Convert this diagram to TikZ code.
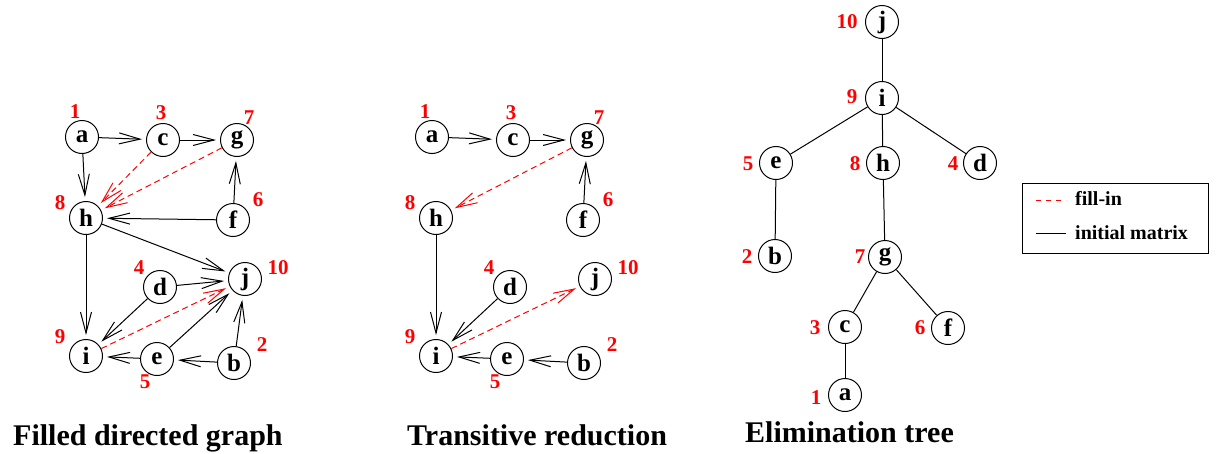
\documentclass[tikz,border=0pt]{standalone}
\usepackage{fontspec}
\setmainfont{Liberation Serif}
\newfontfamily\tbf{Liberation Serif Bold}
\usetikzlibrary{arrows.meta}
\begin{document}
\begin{tikzpicture}[x=1pt,y=-1pt,
  vtx/.style={circle,draw,line width=1pt,minimum size=33pt,inner sep=0pt,font=\fontsize{25}{25}\tbf},
  num/.style={text=red,font=\fontsize{21}{21}\tbf,inner sep=0pt},
  arr/.style={line width=1pt,-{Straight Barb[length=21pt,width=11pt,line width=1pt]},shorten >=4pt},
  fillarr/.style={arr,red,dash pattern=on 6pt off 4pt},
  tedge/.style={line width=1pt},
  title/.style={font=\fontsize{30}{30}\tbf,anchor=base west,inner sep=0pt},
  legtext/.style={font=\fontsize{20}{20}\tbf,anchor=west,inner sep=0pt}
]
\useasboundingbox (0,0) rectangle (1218,453);

% ---------- Filled directed graph ----------
\node[vtx] (la) at (82,137) {a};
\node[vtx] (lc) at (163,140) {c};
\node[vtx] (lg) at (237,140) {g};
\node[vtx] (lh) at (86,218) {h};
\node[vtx] (lf) at (233,220) {f};
\node[vtx] (lj) at (245,279) {j};
\node[vtx] (ld) at (160,287) {d};
\node[vtx] (li) at (86,356) {i};
\node[vtx] (le) at (157,359) {e};
\node[vtx] (lb) at (234,363) {b};
\node[num] (ln1) at (75,112) {1};
\node[num] (ln3) at (161,113) {3};
\node[num] (ln7) at (249,118) {7};
\node[num] (ln8) at (60,203) {8};
\node[num] (ln6) at (258,200) {6};
\node[num] (ln10) at (278,268) {10};
\node[num] (ln4) at (139,268) {4};
\node[num] (ln9) at (60,337) {9};
\node[num] (ln5) at (145,382) {5};
\node[num] (ln2) at (262,345) {2};
\draw[arr] (la) -- (lc);
\draw[arr] (lc) -- (lg);
\draw[arr] (la) -- (lh);
\draw[arr] (lf) -- (lh);
\draw[arr] (lf) -- (lg);
\draw[arr] (lh) -- (lj);
\draw[arr] (lh) -- (li);
\draw[arr] (ld) -- (lj);
\draw[arr] (ld) -- (li);
\draw[arr] (le) -- (lj);
\draw[arr] (le) -- (li);
\draw[arr] (lb) -- (le);
\draw[arr] (lb) -- (lj);
\draw[fillarr] (lc) -- (lh);
\draw[fillarr] (lg) -- (lh);
\draw[fillarr] (li) -- (lj);

% ---------- Transitive reduction ----------
\node[vtx] (ma) at (432,137) {a};
\node[vtx] (mc) at (513,140) {c};
\node[vtx] (mg) at (587,140) {g};
\node[vtx] (mh) at (436,218) {h};
\node[vtx] (mf) at (583,220) {f};
\node[vtx] (mj) at (595,279) {j};
\node[vtx] (md) at (510,287) {d};
\node[vtx] (mi) at (436,356) {i};
\node[vtx] (me) at (507,359) {e};
\node[vtx] (mb) at (584,363) {b};
\node[num] (mn1) at (425,112) {1};
\node[num] (mn3) at (511,113) {3};
\node[num] (mn7) at (599,118) {7};
\node[num] (mn8) at (410,203) {8};
\node[num] (mn6) at (608,200) {6};
\node[num] (mn10) at (628,268) {10};
\node[num] (mn4) at (489,268) {4};
\node[num] (mn9) at (410,337) {9};
\node[num] (mn5) at (495,382) {5};
\node[num] (mn2) at (612,345) {2};
\draw[arr] (ma) -- (mc);
\draw[arr] (mc) -- (mg);
\draw[arr] (mf) -- (mg);
\draw[arr] (mh) -- (mi);
\draw[arr] (md) -- (mi);
\draw[arr] (me) -- (mi);
\draw[arr] (mb) -- (me);
\draw[fillarr] (mg) -- (mh);
\draw[fillarr] (mi) -- (mj);

% ---------- Elimination tree ----------
\node[vtx] (tj) at (882,22) {j};
\node[vtx] (ti) at (882,98) {i};
\node[vtx] (te) at (776,163) {e};
\node[vtx] (th) at (883,163) {h};
\node[vtx] (td) at (980,163) {d};
\node[vtx] (tb) at (775,256) {b};
\node[vtx] (tg) at (885,257) {g};
\node[vtx] (tc) at (845,327) {c};
\node[vtx] (tf) at (948,328) {f};
\node[vtx] (ta) at (845,395) {a};
\node[num] (tn10) at (847,22) {10};
\node[num] (tn9) at (852,97) {9};
\node[num] (tn5) at (748,164) {5};
\node[num] (tn8) at (855,164) {8};
\node[num] (tn4) at (953,164) {4};
\node[num] (tn2) at (747,257) {2};
\node[num] (tn7) at (860,257) {7};
\node[num] (tn3) at (815,328) {3};
\node[num] (tn6) at (920,328) {6};
\node[num] (tn1) at (816,398) {1};
\draw[tedge] (tj) -- (ti);
\draw[tedge] (ti) -- (te);
\draw[tedge] (ti) -- (th);
\draw[tedge] (ti) -- (td);
\draw[tedge] (te) -- (tb);
\draw[tedge] (th) -- (tg);
\draw[tedge] (tg) -- (tc);
\draw[tedge] (tg) -- (tf);
\draw[tedge] (tc) -- (ta);

% ---------- Legend ----------
\node[draw,line width=1.2pt,minimum width=186pt,minimum height=70pt,anchor=north west,inner sep=0pt] (leg) at (1022,183) {};
\coordinate (lga) at (1036,200);
\coordinate (lgb) at (1066,200);
\coordinate (lgc) at (1036,233);
\coordinate (lgd) at (1066,233);
\draw[red,line width=1pt,dash pattern=on 5pt off 5pt] (lga) -- (lgb);
\draw[line width=1pt] (lgc) -- (lgd);
\node[legtext] (lt1) at (1075,198) {fill-in};
\node[legtext] (lt2) at (1075,233) {initial matrix};

% ---------- Titles ----------
\node[title] (t1) at (13,445) {Filled directed graph};
\node[title] (t2) at (407,445) {Transitive reduction};
\node[title] (t3) at (745,442) {Elimination tree};
\end{tikzpicture}
\end{document}
